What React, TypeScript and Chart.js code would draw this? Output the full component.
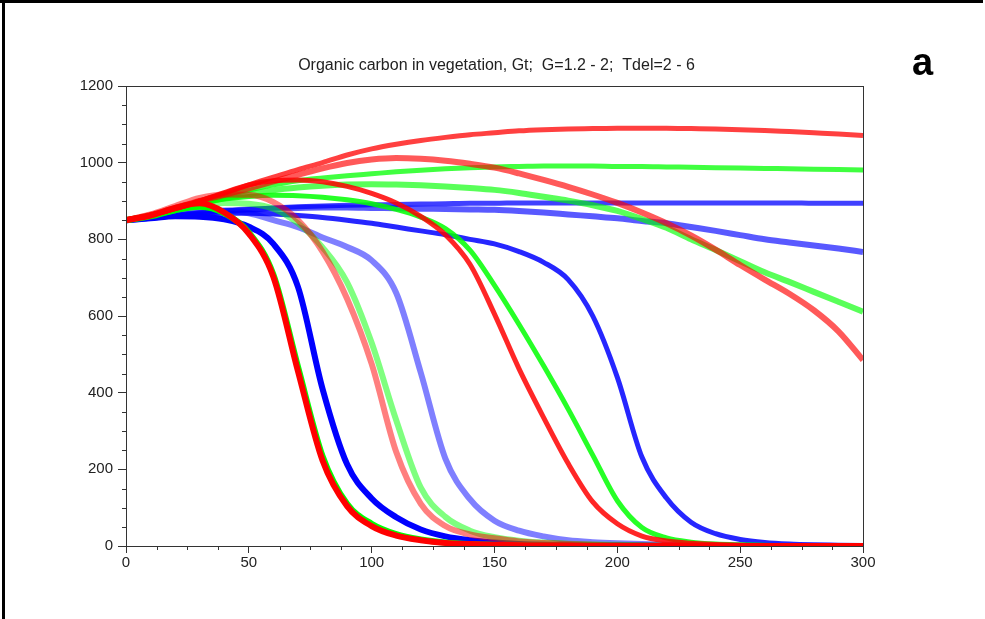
import React, { useEffect, useRef } from "react";
import { Chart, registerables } from "chart.js";

Chart.register(...registerables);

const TITLE = "Organic carbon in vegetation, Gt;  G=1.2 - 2;  Tdel=2 - 6";
const PANEL_LABEL = "a";

const xValues = [0, 10, 20, 30, 40, 50, 60, 70, 80, 90, 100, 110, 120, 130, 140, 150, 160, 170, 180, 190, 200, 210, 220, 230, 240, 250, 260, 270, 280, 290, 300];

// filled circles
const blueDot = [850, 855, 860, 859, 852, 833, 788, 676, 410, 213, 124, 75, 43, 25, 15, 9, 5, 3, 2, 1, 1, 1, 0, 0, 0, 0, 0, 0, 0, 0, 0];
const greenDot = [850, 860, 876, 885, 868, 818, 708, 468, 235, 110, 58, 31, 17, 9, 5, 3, 2, 1, 1, 1, 0, 0, 0, 0, 0, 0, 0, 0, 0, 0, 0];
const redDot = [850, 862, 882, 894, 870, 815, 702, 456, 223, 104, 52, 27, 15, 8, 5, 3, 2, 1, 1, 0, 0, 0, 0, 0, 0, 0, 0, 0, 0, 0, 0];
// open circles
const blueCircle = [850, 858, 866, 872, 875, 868, 850, 832, 805, 780, 745, 660, 452, 228, 122, 66, 40, 25, 15, 10, 7, 5, 3, 2, 1, 1, 1, 0, 0, 0, 0];
const greenCircle = [850, 862, 876, 888, 895, 893, 880, 842, 779, 688, 530, 328, 152, 76, 40, 23, 14, 9, 6, 4, 3, 2, 1, 1, 1, 0, 0, 0, 0, 0, 0];
const redCircle = [850, 865, 887, 908, 917, 916, 897, 850, 768, 645, 475, 245, 110, 52, 30, 20, 12, 8, 5, 3, 2, 1, 1, 1, 0, 0, 0, 0, 0, 0, 0];
// stars
const blueStar = [850, 855, 862, 866, 868, 868, 866, 862, 857, 850, 842, 832, 822, 812, 800, 788, 768, 740, 695, 600, 440, 232, 125, 62, 32, 17, 9, 5, 3, 2, 1];
const greenStar = [850, 862, 878, 893, 905, 912, 915, 914, 910, 903, 893, 878, 858, 828, 772, 680, 578, 470, 357, 237, 118, 48, 21, 10, 5, 3, 2, 1, 1, 1, 0];
const redStar = [850, 863, 880, 900, 922, 942, 953, 955, 950, 938, 920, 895, 860, 812, 735, 605, 462, 335, 215, 115, 58, 26, 13, 7, 4, 2, 1, 1, 1, 0, 0];
// crosses (x)
const blueX = [850, 856, 863, 869, 874, 878, 880, 882, 883, 883, 882, 881, 880, 879, 878, 877, 874, 870, 865, 860, 855, 848, 842, 832, 822, 811, 800, 792, 784, 776, 767];
const greenX = [850, 862, 878, 893, 907, 918, 928, 935, 940, 943, 944, 943, 941, 938, 934, 929, 921, 911, 901, 889, 874, 853, 830, 800, 772, 743, 714, 689, 663, 637, 611];
const redX = [850, 864, 882, 900, 916, 933, 951, 968, 985, 999, 1008, 1012, 1010, 1005, 997, 987, 972, 955, 937, 917, 895, 870, 842, 810, 773, 733, 695, 658, 615, 560, 485];
// plus
const bluePlus = [850, 856, 863, 869, 874, 878, 882, 885, 887, 889, 890, 891, 892, 893, 894, 894, 895, 895, 895, 895, 895, 895, 895, 895, 895, 895, 895, 895, 894, 894, 894];
const greenPlus = [850, 862, 878, 895, 912, 928, 942, 953, 960, 966, 971, 976, 980, 984, 987, 989, 990, 991, 991, 991, 990, 990, 989, 988, 987, 986, 985, 984, 983, 982, 981];
const redPlus = [850, 863, 880, 900, 920, 942, 962, 982, 1000, 1020, 1036, 1048, 1058, 1066, 1073, 1078, 1083, 1086, 1088, 1089, 1090, 1090, 1090, 1089, 1088, 1086, 1084, 1081, 1078, 1075, 1071];

const yMajorTicks = [0, 200, 400, 600, 800, 1000, 1200];
const xMajorTicks = [0, 50, 100, 150, 200, 250, 300];

const BLUE = "0,0,255";
const GREEN = "0,255,0";
const RED = "255,0,0";

const markerStyle: Record<string, { width: number; alpha: number }> = {
  plus: { width: 5, alpha: 0.75 },
  x: { width: 6, alpha: 0.65 },
  star: { width: 5, alpha: 0.85 },
  circle: { width: 6, alpha: 0.5 },
  dot: { width: 6, alpha: 1 },
};

// listed bottom-to-top in drawing order
const series = [
  { name: "blue +", color: BLUE, marker: "plus", values: bluePlus },
  { name: "blue x", color: BLUE, marker: "x", values: blueX },
  { name: "blue *", color: BLUE, marker: "star", values: blueStar },
  { name: "blue o", color: BLUE, marker: "circle", values: blueCircle },
  { name: "blue •", color: BLUE, marker: "dot", values: blueDot },
  { name: "green +", color: GREEN, marker: "plus", values: greenPlus },
  { name: "green x", color: GREEN, marker: "x", values: greenX },
  { name: "green *", color: GREEN, marker: "star", values: greenStar },
  { name: "green o", color: GREEN, marker: "circle", values: greenCircle },
  { name: "green •", color: GREEN, marker: "dot", values: greenDot },
  { name: "red +", color: RED, marker: "plus", values: redPlus },
  { name: "red x", color: RED, marker: "x", values: redX },
  { name: "red *", color: RED, marker: "star", values: redStar },
  { name: "red o", color: RED, marker: "circle", values: redCircle },
  { name: "red •", color: RED, marker: "dot", values: redDot },
];

const FONT = '"Liberation Sans", Arial, Helvetica, sans-serif';

const decorPlugin = {
  id: "decor",
  beforeDraw(chart: any) {
    const { ctx, width, height } = chart;
    ctx.save();
    ctx.fillStyle = "#ffffff";
    ctx.fillRect(0, 0, width, height);
    ctx.restore();
  },
  afterDraw(chart: any) {
    const { ctx, chartArea, scales } = chart;
    const { left, right, top, bottom } = chartArea;
    const xs = scales.x;
    const ys = scales.y;
    ctx.save();
    ctx.strokeStyle = "#333333";
    ctx.lineWidth = 1;
    ctx.strokeRect(Math.round(left) + 0.5, Math.round(top) + 0.5, Math.round(right - left), Math.round(bottom - top));
    ctx.beginPath();
    for (let v = 0; v <= 1200; v += 50) {
      if (v % 200 === 0) continue;
      const py = Math.round(ys.getPixelForValue(v)) + 0.5;
      ctx.moveTo(left - 4, py);
      ctx.lineTo(left, py);
    }
    for (let v = 0; v <= 300; v += 12.5) {
      if (v % 50 === 0) continue;
      const px = Math.round(xs.getPixelForValue(v)) + 0.5;
      ctx.moveTo(px, bottom);
      ctx.lineTo(px, bottom + 4);
    }
    ctx.stroke();
    ctx.fillStyle = "#222222";
    ctx.font = `16px ${FONT}`;
    ctx.textAlign = "center";
    ctx.textBaseline = "alphabetic";
    ctx.fillText(TITLE, (left + right) / 2 + 2, 70);
    ctx.fillStyle = "#000000";
    ctx.font = `bold 38px ${FONT}`;
    ctx.textAlign = "left";
    ctx.fillText(PANEL_LABEL, 912, 75);
    ctx.fillStyle = "#000000";
    ctx.fillRect(0, 0, 983, 3);
    ctx.fillRect(2, 0, 3, 619);
    ctx.restore();
  },
};

export default function App() {
  const canvasRef = useRef<HTMLCanvasElement | null>(null);

  useEffect(() => {
    const canvas = canvasRef.current;
    if (!canvas) return;
    const datasets = series
      .map((s) => {
        const st = markerStyle[s.marker];
        return {
          label: s.name,
          data: xValues.map((x, i) => ({ x, y: s.values[i] })),
          borderColor: `rgba(${s.color},${st.alpha})`,
          backgroundColor: `rgba(${s.color},${st.alpha})`,
          borderWidth: st.width,
          pointRadius: 0,
          cubicInterpolationMode: "monotone" as const,
          fill: false,
        };
      })
      .reverse();
    const chart = new Chart(canvas, {
      type: "line",
      data: { datasets },
      options: {
        animation: false,
        responsive: false,
        devicePixelRatio: 1,
        layout: { padding: { left: 76, top: 86, right: 122, bottom: 33 } },
        plugins: {
          legend: { display: false },
          title: { display: false },
          tooltip: { enabled: false },
        },
        scales: {
          x: {
            type: "linear",
            min: 0,
            max: 300,
            afterFit: (scale: any) => {
              scale.height = 40;
            },
            afterBuildTicks: (scale: any) => {
              scale.ticks = xMajorTicks.map((v) => ({ value: v }));
            },
            grid: { drawOnChartArea: false, drawTicks: true, tickLength: 7, color: "#333333" },
            border: { display: true, color: "#333333", width: 1 },
            ticks: {
              color: "#222222",
              font: { family: FONT, size: 15 },
              padding: 1,
              maxRotation: 0,
              autoSkip: false,
              callback: (v: any) => String(v),
            },
          },
          y: {
            type: "linear",
            min: 0,
            max: 1200,
            afterFit: (scale: any) => {
              scale.width = 50;
            },
            afterBuildTicks: (scale: any) => {
              scale.ticks = yMajorTicks.map((v) => ({ value: v }));
            },
            grid: { drawOnChartArea: false, drawTicks: true, tickLength: 8, color: "#333333" },
            border: { display: true, color: "#333333", width: 1 },
            ticks: {
              color: "#222222",
              font: { family: FONT, size: 15 },
              padding: 5,
              autoSkip: false,
              callback: (v: any) => String(v),
            },
          },
        },
      },
      plugins: [decorPlugin],
    });
    return () => chart.destroy();
  }, []);

  return (
    <div style={{ position: "fixed", left: 0, top: 0, width: 985, height: 619, background: "#fff" }}>
      <canvas ref={canvasRef} width={985} height={619} style={{ display: "block", width: 985, height: 619 }} />
    </div>
  );
}
